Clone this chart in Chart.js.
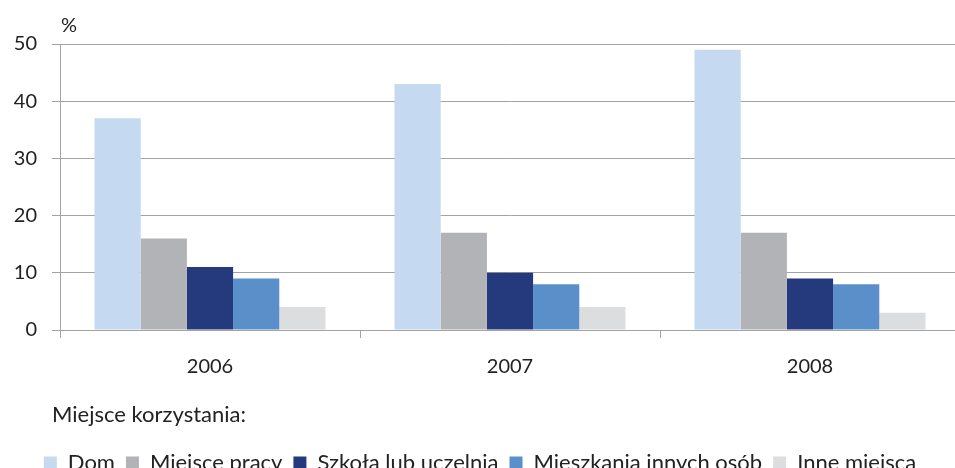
<!DOCTYPE html>
<html lang="pl">
<head>
<meta charset="utf-8">
<title>Miejsce korzystania z Internetu</title>
<script src="https://cdn.jsdelivr.net/npm/chart.js@4/dist/chart.umd.min.js"></script>
<style>
  html, body { margin: 0; padding: 0; background: #fff; overflow: hidden; }
  #wrap { position: relative; width: 960px; height: 484px; }
</style>
</head>
<body>
<div id="wrap"><canvas id="places-chart"></canvas></div>
<script>
// lata i miejsca korzystania
const years = ['2006', '2007', '2008'];
const places = ['Dom', 'Miejsce pracy', 'Szkoła lub uczelnia', 'Mieszkania innych osób', 'Inne miejsca'];

// odsetek w %, kolejno dla 2006, 2007, 2008
const dom = [37, 43, 49];
const miejscePracy = [16, 17, 17];
const szkola = [11, 10, 9];
const mieszkania = [9, 8, 8];
const inne = [4, 4, 3];

const yTicks = [0, 10, 20, 30, 40, 50];

const colors = ['#c5d9f1', '#b2b3b6', '#253a7d', '#5a8fc9', '#dcdddf'];
const series = [dom, miejscePracy, szkola, mieszkania, inne];

const axisColor = '#a3a3a3';
const textColor = '#222';
const fontFamily = 'Lato, "Open Sans", sans-serif';

// "%" nad osią wartości i nagłówek legendy
const extraLabels = {
  id: 'extraLabels',
  afterDraw(chart) {
    const ctx = chart.ctx;
    ctx.save();
    ctx.fillStyle = textColor;
    ctx.textAlign = 'left';
    ctx.textBaseline = 'middle';
    ctx.font = '20px ' + fontFamily;
    ctx.fillText('%', chart.chartArea.left + 1, 26);
    ctx.font = '22px ' + fontFamily;
    ctx.fillText('Miejsce korzystania:', chart.chartArea.left - 8, 415);
    ctx.restore();
  }
};

const datasets = places.map((name, i) => ({
  label: name,
  data: series[i],
  backgroundColor: colors[i],
  borderWidth: 0,
  barPercentage: 1,
  categoryPercentage: 0.77
}));

new Chart(document.getElementById('places-chart'), {
  type: 'bar',
  data: { labels: years, datasets: datasets },
  plugins: [extraLabels],
  options: {
    responsive: true,
    maintainAspectRatio: false,
    animation: false,
    layout: { padding: { top: 44, left: 0, right: 0, bottom: 0 } },
    scales: {
      x: {
        // miejsce pod etykietami lat na nagłówek legendy
        afterFit: axis => { axis.height = 111; },
        grid: {
          offset: true,
          drawOnChartArea: false,
          tickLength: 8,
          color: axisColor
        },
        border: { color: axisColor },
        ticks: {
          padding: 17,
          color: textColor,
          font: { family: fontFamily, size: 20 }
        }
      },
      y: {
        min: 0,
        max: 50,
        afterFit: axis => { axis.width = 60; },
        afterBuildTicks: axis => { axis.ticks = yTicks.map(v => ({ value: v })); },
        grid: { color: axisColor, tickLength: 8 },
        border: { color: axisColor },
        ticks: {
          padding: 15,
          color: textColor,
          font: { family: fontFamily, size: 20 }
        }
      }
    },
    plugins: {
      tooltip: { enabled: false },
      legend: {
        position: 'bottom',
        labels: {
          boxWidth: 13,
          boxHeight: 13,
          padding: 11,
          color: textColor,
          font: { family: fontFamily, size: 22 }
        }
      }
    }
  }
});
</script>
</body>
</html>
